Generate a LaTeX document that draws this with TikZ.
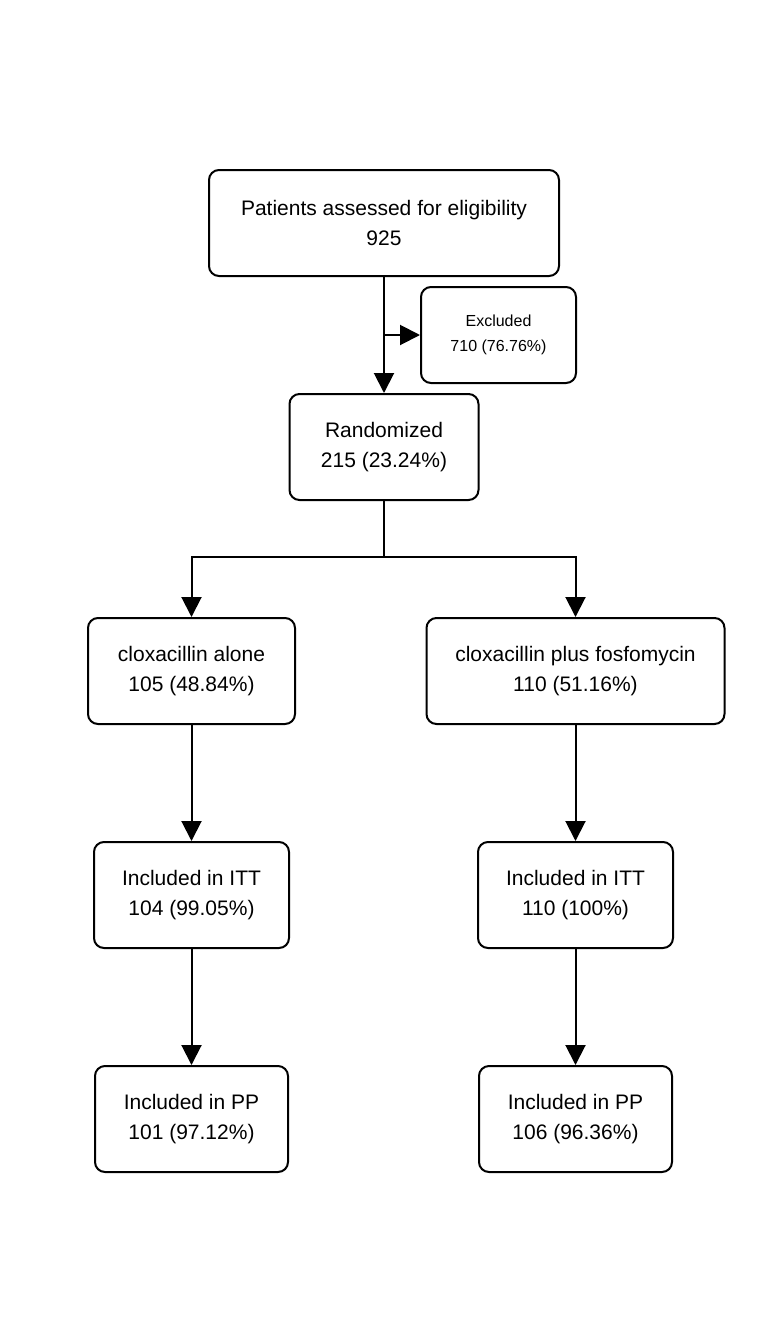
\documentclass[tikz,border=0pt]{standalone}
\usepackage{fontspec}
\setmainfont{Liberation Sans}
\usetikzlibrary{arrows.meta,positioning}

\begin{document}
\begin{tikzpicture}[
    x=0.5pt, y=-0.5pt,
    font=\fontsize{10.5pt}{15pt}\selectfont,
    box/.style={
        draw,
        rounded corners=5pt,
        align=center,
        line width=1pt,
        inner sep=3pt,
        minimum height=53pt
    },
    arrow/.style={
        -{Triangle[length=10pt,width=10pt]},
        line width=1pt
    },
    link/.style={
        line width=1pt
    }
]

\useasboundingbox (0,0) rectangle (768,1344);

% ------------------------------------------------------------------
% Enrollment
% ------------------------------------------------------------------

\node[box, minimum width=175pt] (assessed) at (384,223)
    {Patients assessed for eligibility\\925};

\node[box, minimum width=77.5pt, minimum height=48pt,
      font=\fontsize{8pt}{12.5pt}\selectfont] (excluded) at (498.5,335)
    {Excluded\\710 (76.76\%)};

\node[box, minimum width=94.5pt] (randomized) at (384,447)
    {Randomized\\215 (23.24\%)};

\coordinate (exclsplit) at (assessed.south |- excluded.west);

\draw[arrow] (assessed.south) -- (randomized.north);
\draw[arrow] (exclsplit) -- (excluded.west);

% ------------------------------------------------------------------
% Allocation
% ------------------------------------------------------------------

\node[box, minimum width=103.5pt] (alone) at (191.5,671)
    {cloxacillin alone\\105 (48.84\%)};

\node[box, minimum width=149pt] (plusfosfo) at (575.5,671)
    {cloxacillin plus fosfomycin\\110 (51.16\%)};

\coordinate (randsplit) at (randomized.south |- 0,557);

\draw[link] (randomized.south) -- (randsplit);
\draw[arrow] (randsplit) -| (alone.north);
\draw[arrow] (randsplit) -| (plusfosfo.north);

% ------------------------------------------------------------------
% Analysis
% ------------------------------------------------------------------

\node[box, minimum width=97.5pt] (ittalone) at (191.5,895)
    {Included in ITT\\104 (99.05\%)};

\node[box, minimum width=97.5pt] (ittplus) at (575.5,895)
    {Included in ITT\\110 (100\%)};

\node[box, minimum width=96.5pt] (ppalone) at (191.5,1119)
    {Included in PP\\101 (97.12\%)};

\node[box, minimum width=96.5pt] (ppplus) at (575.5,1119)
    {Included in PP\\106 (96.36\%)};

\draw[arrow] (alone) -- (ittalone);
\draw[arrow] (plusfosfo) -- (ittplus);
\draw[arrow] (ittalone) -- (ppalone);
\draw[arrow] (ittplus) -- (ppplus);

\end{tikzpicture}
\end{document}
